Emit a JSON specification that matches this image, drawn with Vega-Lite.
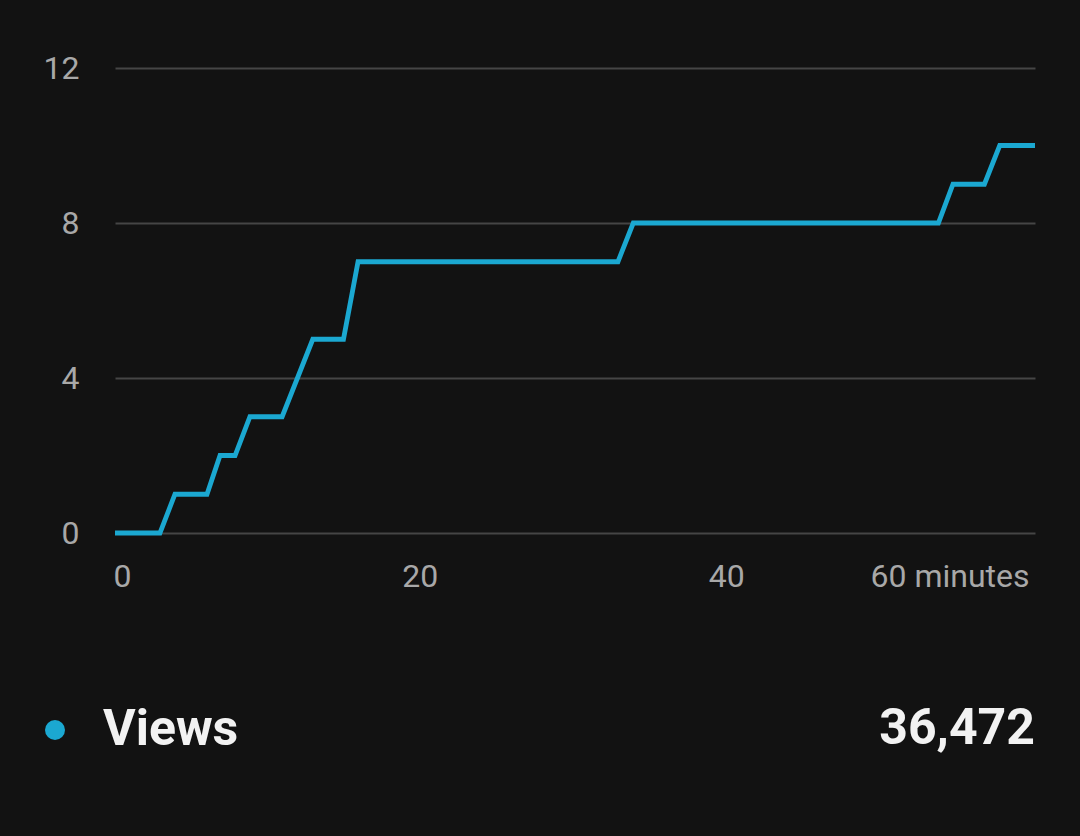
{
  "$schema": "https://vega.github.io/schema/vega-lite/v6.json",
  "autosize": {"type": "none"},
  "width": 920,
  "height": 465,
  "padding": {"left": 115, "top": 68, "right": 45, "bottom": 303},
  "background": "#121212",
  "config": {
    "view": {"stroke": null},
    "font": "Roboto",
    "axis": {"labelFont": "Roboto", "labelColor": "#a8a8a8", "labelFontSize": 32, "domain": false, "ticks": false, "gridColor": "#454545", "gridWidth": 2}
  },
  "datasets": {
    "views": [
      {"minute": 0, "views": 0, "series": "Views"},
      {"minute": 2.93, "views": 0, "series": "Views"},
      {"minute": 3.91, "views": 1, "series": "Views"},
      {"minute": 6.0, "views": 1, "series": "Views"},
      {"minute": 6.85, "views": 2, "series": "Views"},
      {"minute": 7.83, "views": 2, "series": "Views"},
      {"minute": 8.8, "views": 3, "series": "Views"},
      {"minute": 10.9, "views": 3, "series": "Views"},
      {"minute": 12.9, "views": 5, "series": "Views"},
      {"minute": 14.9, "views": 5, "series": "Views"},
      {"minute": 15.85, "views": 7, "series": "Views"},
      {"minute": 32.8, "views": 7, "series": "Views"},
      {"minute": 33.8, "views": 8, "series": "Views"},
      {"minute": 53.7, "views": 8, "series": "Views"},
      {"minute": 54.65, "views": 9, "series": "Views"},
      {"minute": 56.7, "views": 9, "series": "Views"},
      {"minute": 57.7, "views": 10, "series": "Views"},
      {"minute": 60, "views": 10, "series": "Views"}
    ],
    "total": [{"series": "Views", "total": 36472}]
  },
  "layer": [
    {
      "data": {"name": "views"},
      "mark": {"type": "line", "strokeWidth": 4.8, "strokeJoin": "miter"},
      "encoding": {
        "x": {
          "field": "minute", "type": "quantitative",
          "scale": {"domain": [0, 60], "nice": false},
          "axis": {
            "title": null, "values": [0, 20, 40, 60], "grid": false,
            "labelPadding": 28, "labelBaseline": "top",
            "labelExpr": "datum.value == 60 ? '60 minutes' : datum.label",
            "labelFlush": true,
            "labelOffset": {"condition": {"test": "datum.value == 60", "value": -6}, "value": -2}
          }
        },
        "y": {
          "field": "views", "type": "quantitative",
          "scale": {"domain": [0, 12], "nice": false},
          "axis": {"title": null, "values": [0, 4, 8, 12], "grid": true, "labelPadding": 36}
        },
        "color": {
          "field": "series", "type": "nominal",
          "scale": {"range": ["#1ba8d1"]},
          "legend": {
            "title": null, "orient": "none", "legendX": -85, "legendY": 637,
            "symbolType": "circle", "symbolSize": 400, "symbolFillColor": "#1ba8d1", "symbolStrokeWidth": 0,
            "labelFont": "Roboto", "labelFontSize": 50, "labelFontWeight": "bold", "labelColor": "#f2f2f2",
            "labelOffset": 23, "padding": 0
          }
        }
      }
    },
    {
      "data": {"name": "total"},
      "mark": {"type": "text", "align": "right", "baseline": "middle", "font": "Roboto", "fontSize": 50, "fontWeight": "bold", "color": "#f2f2f2", "dx": 0},
      "encoding": {
        "x": {"datum": 60, "type": "quantitative"},
        "y": {"datum": -5.06, "type": "quantitative"},
        "text": {"field": "total", "type": "quantitative", "format": ","}
      }
    }
  ]
}
